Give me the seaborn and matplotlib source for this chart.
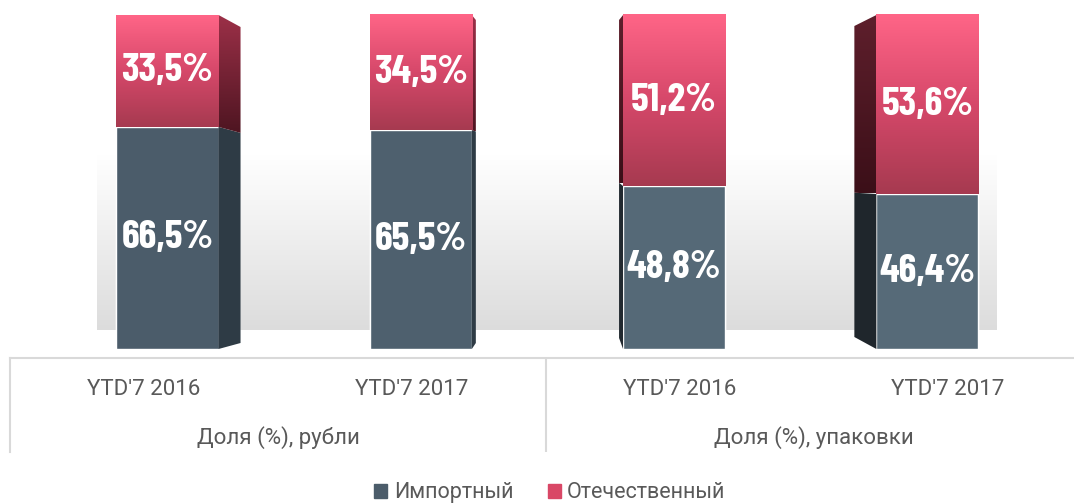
import numpy as np
import pandas as pd
import seaborn as sns
import matplotlib.pyplot as plt
from matplotlib.colors import LinearSegmentedColormap
from matplotlib.patches import Polygon, Patch

categories = ["YTD'7 2016", "YTD'7 2017", "YTD'7 2016", "YTD'7 2017"]
groups = ["Доля (%), рубли", "Доля (%), упаковки"]
series_names = ["Импортный", "Отечественный"]
imported = [66.5, 65.5, 48.8, 46.4]
domestic = [33.5, 34.5, 51.2, 53.6]

# 3d look: side face (dx, top drop, bottom rise) in pixels
side_px = [(22, 12, 6), (4, 5, 6), (-4, 5, 11), (-22, 11, 12)]

gray_fronts = ["#4b5c6a", "#4e606e", "#556977", "#566a78"]
gray_sides = ["#2e3b45", "#2e3b45", "#22292f", "#1f262c"]
red_sides = [["#4e1521", "#9c3048"], ["#4e1521", "#9c3048"],
             ["#3b0f18", "#5e1f2c"], ["#3b0f18", "#5e1f2c"]]
red_front = LinearSegmentedColormap.from_list("rf", ["#a63a50", "#d6486a", "#ff6587"])
floor_cm = LinearSegmentedColormap.from_list("fl", ["#dcdcdc", "#ffffff"])
text_gray = "#595959"
line_gray = "#d9d9d9"
value_font = ["Barlow Condensed", "Asap Condensed", "DejaVu Sans"]

sns.set_theme(style="white")
plt.rcParams["font.family"] = ["Roboto", "DejaVu Sans"]

W = 0.403
sx, sy = 253.3, 3.34  # pixels per data unit
x0_px, y0_px = 167.5, 349

fig = plt.figure(figsize=(10.74, 5.04), dpi=100)
ax = fig.add_axes([0, (504 - y0_px) / 504, 1, y0_px / 504])

df = pd.DataFrame({"pos": range(4),
                   "total": [a + b for a, b in zip(imported, domestic)],
                   "imp": imported})
sns.barplot(data=df, x="pos", y="total", color="#e04a6a", width=W,
            saturation=1, ax=ax, zorder=3)
sns.barplot(data=df, x="pos", y="imp", hue="pos", palette=gray_fronts, width=W,
            saturation=1, ax=ax, zorder=4, legend=False, dodge=False)

grad = np.linspace(0, 1, 256).reshape(-1, 1)

# back floor
ax.imshow(grad, extent=[(97 - x0_px) / sx, (997 - x0_px) / sx,
                        (y0_px - 330) / sy, (y0_px - 155) / sy],
          origin="lower", cmap=floor_cm, aspect="auto", zorder=0)

for i, p in enumerate(ax.patches[:4]):
    x, w = p.get_x(), p.get_width()
    imp, tot = imported[i], imported[i] + domestic[i]
    ax.imshow(grad, extent=[x, x + w, imp, tot], origin="lower",
              cmap=red_front, aspect="auto", zorder=5)

    dx, drop, rise = side_px[i]
    edge = x + w if dx > 0 else x
    dxu, dropu, riseu = dx / sx, drop / sy, rise / sy

    def back(v):
        return riseu + v * (tot - dropu - riseu) / tot

    gp = Polygon([(edge, 0), (edge, imp), (edge + dxu, back(imp)),
                  (edge + dxu, back(0))], closed=True,
                 facecolor=gray_sides[i], edgecolor="none", zorder=4)
    ax.add_patch(gp)
    rp = Polygon([(edge, imp), (edge, tot), (edge + dxu, back(tot)),
                  (edge + dxu, back(imp))], closed=True,
                 facecolor="none", edgecolor="none", zorder=4)
    ax.add_patch(rp)
    side_cm = LinearSegmentedColormap.from_list(f"rs{i}", red_sides[i])
    im = ax.imshow(grad, extent=[min(edge, edge + dxu), max(edge, edge + dxu),
                                 back(imp), tot],
                   origin="lower", cmap=side_cm, aspect="auto", zorder=4)
    im.set_clip_path(rp)

    for v, c in [(imp / 2, imp), (imp + domestic[i] / 2, domestic[i])]:
        ax.text(i, v, f"{c:.1f}%".replace(".", ","), ha="center", va="center",
                color="white", fontsize=29, fontweight="bold",
                family=value_font, zorder=6)

ax.set_xlim(-x0_px / sx, (1074 - x0_px) / sx)
ax.set_ylim(0, y0_px / sy)
ax.axis("off")

# category axis
cax = fig.add_axes([10 / 1074, (504 - 452) / 504, 1064 / 1074, 94 / 504])
cax.set_xlim(-0.5, -0.5 + 1064 / 268)
cax.set_ylim(0, 1)
cax.set_xticks([])
cax.set_yticks([])
cax.set_facecolor("none")
for s in ["bottom", "right"]:
    cax.spines[s].set_visible(False)
for s in ["top", "left"]:
    cax.spines[s].set_color(line_gray)
    cax.spines[s].set_linewidth(1.5)
cax.axvline(1.5, color=line_gray, lw=1.5)
for i, c in enumerate(categories):
    cax.text(i, 0.66, c, ha="center", va="center", fontsize=16, color=text_gray)
for j, g in enumerate(groups):
    cax.text(2 * j + 0.5, 0.15, g, ha="center", va="center", fontsize=16, color=text_gray)

handles = [Patch(color=gray_fronts[0]), Patch(color="#d94766")]
fig.legend(handles, series_names, loc="center", bbox_to_anchor=(0.512, 0.022),
           ncol=2, frameon=False, fontsize=15.5, labelcolor=text_gray,
           handlelength=0.6, handleheight=0.6, handletextpad=0.3,
           columnspacing=1.6)

fig.savefig("out.png", dpi=100)
